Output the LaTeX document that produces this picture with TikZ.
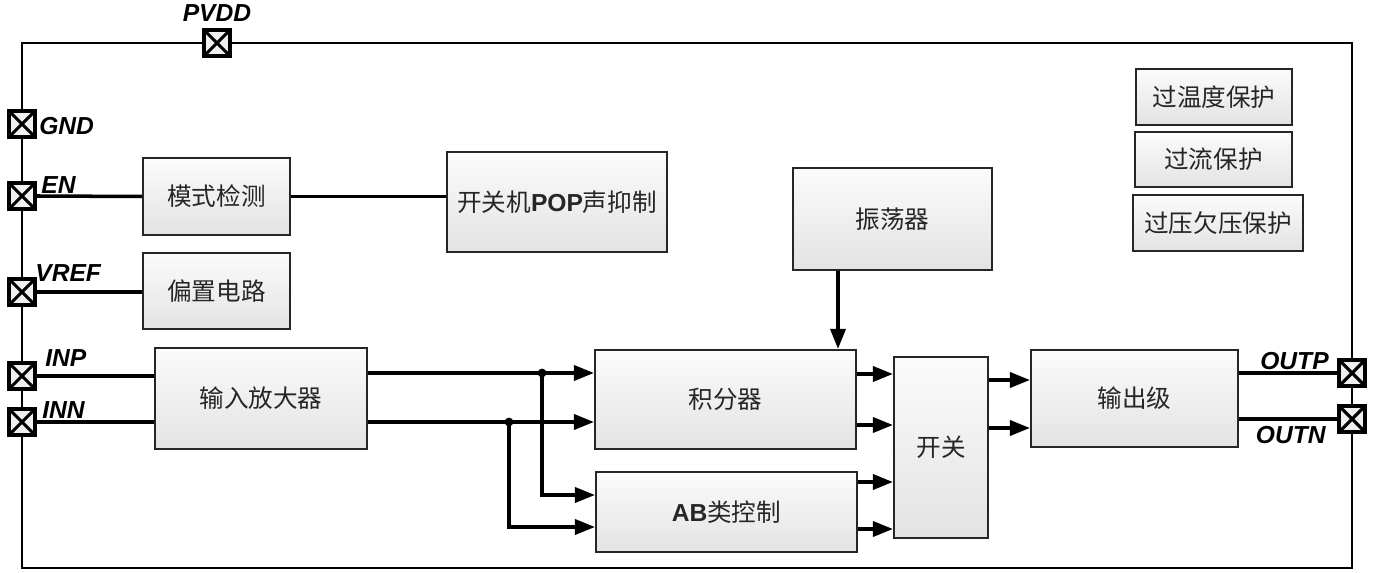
\documentclass[tikz,border=0pt]{standalone}
\usepackage{fontspec}
\setmainfont{Liberation Sans}
\newfontfamily\cjk{Noto Sans CJK SC}
\usetikzlibrary{arrows.meta,positioning}
\newcommand{\latb}[1]{{\rmfamily\bfseries #1}}
\tikzset{
  blk/.style={draw=black!85, line width=1.2pt, top color=gray!3, bottom color=gray!22, text=black!85,
    inner sep=0pt, font=\cjk\fontsize{14}{16}\selectfont},
  pad/.style={draw=black, line width=2.4pt, fill=gray!12, minimum size=0.52cm, inner sep=0pt,
    path picture={\draw[line width=1.8pt] (path picture bounding box.south west) -- (path picture bounding box.north east)
      (path picture bounding box.north west) -- (path picture bounding box.south east);}},
  padlbl/.style={font=\fontsize{14}{16}\selectfont\bfseries\itshape, inner sep=0pt},
  wire/.style={line width=2pt},
  sig/.style={line width=2pt, -{Triangle[length=0.4cm,width=0.3cm]}}
}
\begin{document}
\begin{tikzpicture}[x=0.02cm,y=-0.02cm]
\useasboundingbox (0,0) rectangle (1375,573);
\draw[line width=1.5pt] (22,43) rectangle (1352,568);
\node[pad] (pPVDD) at (217,43) {};
\node[pad] (pGND) at (22,124) {};
\node[pad] (pEN) at (22,196) {};
\node[pad] (pVREF) at (22,292) {};
\node[pad] (pINP) at (22,376) {};
\node[pad] (pINN) at (22,422) {};
\node[pad] (pOUTP) at (1352,373) {};
\node[pad] (pOUTN) at (1352,419) {};
\node[padlbl] (lPVDD) at (217,13) {PVDD};
\node[padlbl, anchor=west] (lGND) at (39,126) {GND};
\node[padlbl, anchor=west] (lEN) at (41,185) {EN};
\node[padlbl, anchor=west] (lVREF) at (35,273) {VREF};
\node[padlbl, anchor=west] (lINP) at (45,358) {INP};
\node[padlbl, anchor=west] (lINN) at (42,410) {INN};
\node[padlbl, anchor=east] (lOUTP) at (1329,361) {OUTP};
\node[padlbl, anchor=east] (lOUTN) at (1326,435) {OUTN};
\node[blk, minimum width=2.94cm, minimum height=1.54cm] (mode) at (216.5,196.5) {模式检测};
\node[blk, minimum width=4.4cm, minimum height=2cm] (pop) at (557,202) {开关机\latb{POP}声抑制};
\node[blk, minimum width=2.94cm, minimum height=1.52cm] (bias) at (216.5,291) {偏置电路};
\node[blk, minimum width=4.24cm, minimum height=2.02cm] (amp) at (261,398.5) {输入放大器};
\node[blk, minimum width=3.98cm, minimum height=2.04cm] (osc) at (892.5,219) {振荡器};
\node[blk, minimum width=5.22cm, minimum height=1.98cm] (integ) at (725.5,399.5) {积分器};
\node[blk, minimum width=5.22cm, minimum height=1.6cm] (ab) at (726.5,512) {\latb{AB}类控制};
\node[blk, minimum width=1.88cm, minimum height=3.62cm] (sw) at (941,447.5) {开关};
\node[blk, minimum width=4.14cm, minimum height=1.94cm] (outs) at (1134.5,398.5) {输出级};
\node[blk, minimum width=3.12cm, minimum height=1.12cm] (otp) at (1214,97) {过温度保护};
\node[blk, minimum width=3.14cm, minimum height=1.1cm] (ocp) at (1213.5,159.5) {过流保护};
\node[blk, minimum width=3.4cm, minimum height=1.12cm] (ovp) at (1218,223) {过压欠压保护};
\coordinate (jp) at (542,373);
\coordinate (jn) at (509,422);
\draw[wire] (pEN.east) -- (mode.west);
\draw[wire] (mode.east) -- (mode.east -| pop.west);
\draw[wire] (pVREF.east) -- (pVREF.east -| bias.west);
\draw[wire] (pINP.east) -- (pINP.east -| amp.west);
\draw[wire] (pINN.east) -- (pINN.east -| amp.west);
\draw[sig] (amp.east |- jp) -- (jp -| integ.west);
\draw[sig] (amp.east |- jn) -- (jn -| integ.west);
\draw[sig] (jp) |- (ab.west |- 0,495);
\draw[sig] (jn) |- (ab.west |- 0,527);
\filldraw (jp) circle (0.08cm);
\filldraw (jn) circle (0.08cm);
\draw[sig] ([xshift=-1.09cm]osc.south) -- ([xshift=-1.09cm]osc.south |- integ.north);
\draw[sig] (integ.east |- 0,374) -- (sw.west |- 0,374);
\draw[sig] (integ.east |- 0,425) -- (sw.west |- 0,425);
\draw[sig] (ab.east |- 0,482) -- (sw.west |- 0,482);
\draw[sig] (ab.east |- 0,529) -- (sw.west |- 0,529);
\draw[sig] (sw.east |- 0,380) -- (outs.west |- 0,380);
\draw[sig] (sw.east |- 0,428) -- (outs.west |- 0,428);
\draw[wire] (outs.east |- pOUTP) -- (pOUTP.west);
\draw[wire] (outs.east |- pOUTN) -- (pOUTN.west);
\end{tikzpicture}
\end{document}
